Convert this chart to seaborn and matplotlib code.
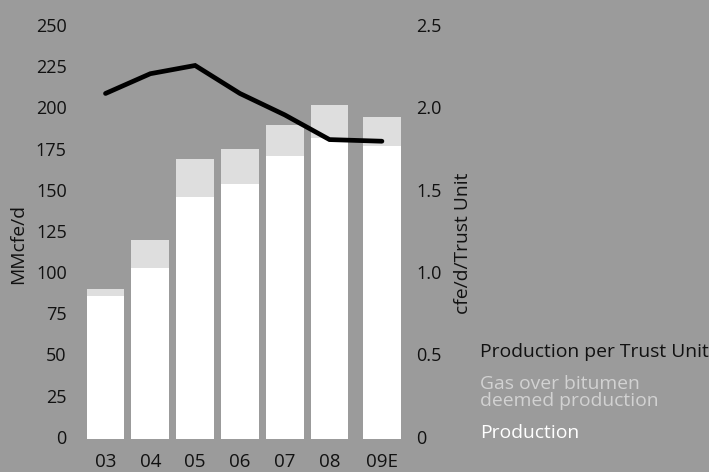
import matplotlib
matplotlib.use("Agg")
import matplotlib.pyplot as plt
import matplotlib.transforms as mtransforms
import pandas as pd
import seaborn as sns

# Production volumes (MMcfe/d) and per-unit production (cfe/d per Trust Unit)
years = ["03", "04", "05", "06", "07", "08", "09E"]
production = [87, 104, 147, 155, 172, 183, 178]
gas_over_bitumen = [4, 17, 23, 21, 19, 20, 18]
per_trust_unit = [2.10, 2.22, 2.27, 2.10, 1.97, 1.82, 1.81]

left_ticks = [0, 25, 50, 75, 100, 125, 150, 175, 200, 225, 250]
right_ticks = [0, 0.5, 1.0, 1.5, 2.0, 2.5]
right_tick_labels = ["0", "0.5", "1.0", "1.5", "2.0", "2.5"]

# bar slots; the estimate year sits slightly apart from the actuals
slots = [0, 1, 2, 3, 4, 5, 6.17]

BG = "#9b9b9b"
GAS = "#dedede"

df = pd.DataFrame({
    "slot": slots,
    "year": years,
    "production": production,
    "total": [p + g for p, g in zip(production, gas_over_bitumen)],
    "per_unit": per_trust_unit,
})

sns.set_theme(style="white", rc={"axes.facecolor": BG, "figure.facecolor": BG,
                                 "savefig.facecolor": BG})
plt.rcParams["font.family"] = ["Open Sans", "DejaVu Sans"]

W, H = 709, 472
fig = plt.figure(figsize=(W / 100, H / 100), dpi=100)
left_px, right_px, top_px, bottom_px = 75, 408, 27.6, 439.3
ax = fig.add_axes([left_px / W, 1 - bottom_px / H,
                   (right_px - left_px) / W, (bottom_px - top_px) / H])

sns.barplot(data=df, x="slot", y="total", native_scale=True, color=GAS,
            saturation=1, width=0.84, linewidth=0, ax=ax)
sns.barplot(data=df, x="slot", y="production", native_scale=True, color="white",
            saturation=1, width=0.84, linewidth=0, ax=ax)

ax2 = ax.twinx()
sns.lineplot(data=df, x="slot", y="per_unit", color="black", linewidth=3.4,
             solid_capstyle="round", solid_joinstyle="miter", ax=ax2)

ax.set_xlim(-0.681, 6.752)
ax.set_ylim(0, 250)
ax2.set_ylim(0, 2.5)

ax.set_xticks(slots)
ax.set_xticklabels(years)
ax.set_yticks(left_ticks)
ax.set_yticklabels([str(t) for t in left_ticks])
ax2.set_yticks(right_ticks)
ax2.set_yticklabels(right_tick_labels)

for a in (ax, ax2):
    for s in a.spines.values():
        s.set_visible(False)
    a.tick_params(length=0, labelsize=13, labelcolor="#111111")
    a.grid(False)
ax.tick_params(axis="x", pad=10, labelsize=13.5)
ax.tick_params(axis="y", pad=6)
ax2.tick_params(axis="y", pad=6)

# lift the value labels a touch above their gridline positions
lift = mtransforms.ScaledTranslation(0, 2.5 / 100, fig.dpi_scale_trans)
for lab in ax.get_yticklabels() + ax2.get_yticklabels():
    lab.set_transform(lab.get_transform() + lift)

ax.set_xlabel("")
ax.set_ylabel("MMcfe/d", fontsize=13.9, color="#111111", va="center")
ax.yaxis.set_label_coords(-0.171, 0.474)
ax2.set_ylabel("cfe/d/Trust Unit", fontsize=13.9, color="#111111", va="center")
ax2.yaxis.set_label_coords(1.165, 0.476)

fig.text(480 / W, 1 - 351.7 / H, "Production per Trust Unit", fontsize=13.9,
         color="#111111", ha="left", va="center")
fig.text(480 / W, 1 - 392.5 / H, "Gas over bitumen\ndeemed production",
         fontsize=13.9, color="#d2d2d2", ha="left", va="center", linespacing=0.96)
fig.text(480 / W, 1 - 433.3 / H, "Production", fontsize=13.9,
         color="white", ha="left", va="center")

fig.savefig("out.png", dpi=100, facecolor=BG)
